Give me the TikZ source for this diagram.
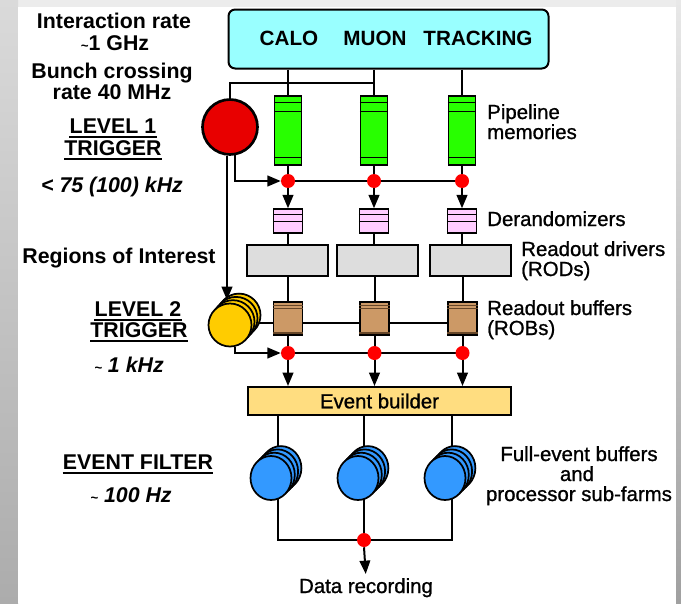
\documentclass[tikz,border=0pt]{standalone}
\usepackage{fontspec}
\setmainfont{Liberation Sans}
\newfontfamily\medfont[FakeBold=1]{Liberation Sans}
\usetikzlibrary{arrows.meta,shapes.geometric,calc}
\pgfdeclarelayer{bg}
\pgfdeclarelayer{wires}
\pgfsetlayers{bg,wires,main}
\definecolor{cyanbox}{RGB}{153,255,255}
\definecolor{pipegreen}{RGB}{40,255,0}
\definecolor{derpink}{RGB}{255,204,255}
\definecolor{rodgray}{RGB}{221,221,221}
\definecolor{robbrown}{RGB}{204,153,102}
\definecolor{robdark}{RGB}{102,70,40}
\definecolor{ltwoyellow}{RGB}{255,204,0}
\definecolor{efblue}{RGB}{51,153,255}
\definecolor{ebyellow}{RGB}{255,221,128}
\definecolor{dotred}{RGB}{255,0,0}
\definecolor{lonered}{RGB}{232,0,0}
\definecolor{bgtop}{RGB}{236,236,236}
\definecolor{lefttop}{RGB}{218,218,218}
\definecolor{leftbot}{RGB}{172,172,172}
\definecolor{righttop}{RGB}{232,232,232}
\definecolor{rightbot}{RGB}{160,160,160}
\newcommand\fhead{\fontsize{16}{19}\selectfont\bfseries}
\newcommand\flab{\medfont\fontsize{15.3}{18}\selectfont}
\newcommand\smtilde{{\fontsize{10}{10}\selectfont\textasciitilde}}
\begin{document}
\begin{tikzpicture}[x=0.75pt,y=-0.75pt,
  wire/.style={line width=1.5pt,black},
  arr/.style={wire,-{Triangle[length=10pt,width=8pt]}},
  box/.style={draw=black,line width=1.1pt,inner sep=0,rectangle},
  pipe/.style={box,fill=pipegreen,minimum width=20.25pt,minimum height=51.75pt},
  derand/.style={box,fill=derpink,minimum width=21.75pt,minimum height=18pt},
  rodbox/.style={box,fill=rodgray,minimum width=60.75pt,minimum height=23.25pt},
  robbox/.style={box,fill=robbrown,minimum width=21.75pt,minimum height=24.75pt},
  reddot/.style={circle,fill=dotred,inner sep=0,minimum size=10.5pt},
  stripe/.style={line width=1pt},
  ydisc/.style={circle,draw=black,line width=1.3pt,inner sep=0,minimum size=32.25pt,fill=ltwoyellow},
  bdisc/.style={ellipse,draw=black,line width=1.3pt,inner sep=0,minimum width=30.75pt,minimum height=33pt,fill=efblue},
  hd/.style={inner sep=0,anchor=base,font=\fhead},
  lb/.style={inner sep=0,anchor=base west,font=\flab},
  lbc/.style={inner sep=0,anchor=base,font=\flab},
  ul/.style={line width=1.1pt}
]
\useasboundingbox (0,0) rectangle (681,603);
\begin{pgfonlayer}{bg}
  \fill[bgtop] (0,0) rectangle (681,603);
  \shade[top color=lefttop,bottom color=leftbot] (0,0) rectangle (18,603);
  \shade[top color=righttop,bottom color=rightbot] (676,0) rectangle (681,603);
  \fill[white] (18,7) rectangle (676,603);
\end{pgfonlayer}

% detector box
\node[rectangle,rounded corners=5pt,draw,line width=1.5pt,fill=cyanbox,
      minimum width=240pt,minimum height=44.25pt,inner sep=0] (det) at (388.5,39) {};
\node[hd,font=\fontsize{15.5}{18}\selectfont\bfseries] (calo) at (289,45) {CALO};
\node[hd,font=\fontsize{15.5}{18}\selectfont\bfseries] (muon) at (375,45) {MUON};
\node[hd,font=\fontsize{15.5}{18}\selectfont\bfseries] (trk) at (478,45) {TRACKING};

% pipelines
\node[pipe] (p1) at (288,130.5) {};
\node[pipe] (p2) at (374,130.5) {};
\node[pipe] (p3) at (462,130.5) {};
\foreach \i in {1,2,3}{
  \draw[stripe] ($(p\i.north west)+(0,7)$) -- ($(p\i.north east)+(0,7)$);
  \draw[stripe] ($(p\i.north west)+(0,16)$) -- ($(p\i.north east)+(0,16)$);
  \draw[stripe] ($(p\i.south west)+(0,-8)$) -- ($(p\i.south east)+(0,-8)$);
}
% red dots row 1
\node[reddot] (d1) at (288,181) {};
\node[reddot] (d2) at (374,181) {};
\node[reddot] (d3) at (462,181) {};
% derandomizers
\node[derand] (z1) at (288,221) {};
\node[derand] (z2) at (374,221) {};
\node[derand] (z3) at (462,221) {};
\foreach \i in {1,2,3}{
  \draw[stripe] ($(z\i.north west)+(0,6)$) -- ($(z\i.north east)+(0,6)$);
  \draw[stripe] ($(z\i.north west)+(0,13)$) -- ($(z\i.north east)+(0,13)$);
}
% RODs
\node[rodbox] (rod1) at (287.5,260.5) {};
\node[rodbox] (rod2) at (377.5,260.5) {};
\node[rodbox] (rod3) at (470.5,260.5) {};
% ROBs
\node[robbox] (r1) at (288,318.5) {};
\node[robbox] (r2) at (374.5,318.5) {};
\node[robbox] (r3) at (462.5,318.5) {};
\foreach \i in {1,2,3}{
  \draw[line width=0.8pt,robdark] ($(r\i.north west)+(0,4)$) -- ($(r\i.north east)+(0,4)$);
  \draw[line width=0.8pt,robdark] ($(r\i.north west)+(0,7.5)$) -- ($(r\i.north east)+(0,7.5)$);
  \draw[line width=1.3pt,robdark] ($(r\i.south west)+(0,-3)$) -- ($(r\i.south east)+(0,-3)$);
}
% red dots row 2
\node[reddot] (e1) at (288,353) {};
\node[reddot] (e2) at (374.5,353) {};
\node[reddot] (e3) at (462.5,353) {};
% event builder
\node[box,line width=1.5pt,fill=ebyellow,minimum width=197.25pt,minimum height=21pt,font=\flab] (eb) at (379.5,401) {Event builder};

% level 1
\node[circle,draw,line width=2pt,fill=lonered,minimum size=41.25pt,inner sep=0] (l1) at (230,127) {};
% level 2 stack
\foreach \k in {3,2,1}{ \node[ydisc] at (230+3*\k,325-3.3*\k) {}; }
\node[ydisc] (l2) at (230,325) {};
\coordinate (l2in) at (227,300);
\coordinate (l2r) at (245,323);

% event filter stacks
\foreach \k in {3,2,1}{
  \node[bdisc] at (271+3.3*\k,478-3.3*\k) {};
  \node[bdisc] at (358+3.3*\k,478-3.3*\k) {};
  \node[bdisc] at (445+3.3*\k,478-3.3*\k) {};
}
\node[bdisc] (f1) at (271,478) {};
\node[bdisc] (f2) at (358,478) {};
\node[bdisc] (f3) at (445,478) {};
\coordinate (bl) at (278,540);
\coordinate (br) at (452,540);
\node[reddot] (rec) at (364,540) {};
\node[lbc] (datarec) at (366,593) {Data recording};

\begin{pgfonlayer}{wires}
  \foreach \i in {1,2,3}{
    \draw[wire] (p\i.north |- det.south) -- (p\i.north);
    \draw[wire] (p\i.south) -- (d\i.center);
    \draw[arr] (d\i.south) -- (z\i.north);
    \draw[wire] (z\i.south) -- (z\i.south |- rod\i.north);
    \draw[wire] (r\i.north |- rod\i.south) -- (r\i.north);
    \draw[wire] (r\i.south) -- (e\i.center);
    \draw[arr] (e\i.south) -- (e\i.south |- eb.north);
  }
  \draw[wire] (l1.north) |- ($(p2.north)+(0,-12)$);
  \draw[wire] (d1.center) -- (d3.center);
  \draw[arr] (l1.280) |- (d1.west);
  \draw[wire] (l2r) -- (l2r -| r3.center);
  \draw[arr] (l2.284) |- (e1.west);
  \draw[wire] (e1.center) -- (e3.center);
  \draw[wire] (eb.south -| bl) -- (bl) -- (br) -- (eb.south -| br);
  \draw[wire] (eb.south -| rec) -- (rec.center);
  \draw[arr,shorten >=3pt] (rec.south) -- (datarec.north);
\end{pgfonlayer}
\draw[arr] (l1.264) -- (l1.264 |- l2in);

% left texts
\node[hd] (t1) at (114,28) {Interaction rate};
\node[hd] (t2) at (115,50) {\smtilde1 GHz};
\node[hd] (t3) at (112,78) {Bunch crossing};
\node[hd] (t4) at (112,99) {rate 40 MHz};
\node[hd] (lva) at (113,133) {LEVEL 1};
\node[hd] (lvb) at (113,155) {TRIGGER};
\node[hd,font=\fhead\itshape] (rt1) at (112,192) {< 75 (100) kHz};
\node[hd] (roi) at (119,263) {Regions of Interest};
\node[hd] (lvc) at (138,316) {LEVEL 2};
\node[hd] (lvd) at (139,337) {TRIGGER};
\node[hd,font=\fhead\itshape] (rt2) at (129,372) {\smtilde{} 1 kHz};
\node[hd] (evf) at (138,469) {EVENT FILTER};
\node[hd,font=\fhead\itshape] (rt3) at (131,502) {\smtilde{} 100 Hz};
\foreach \n in {lva,lvb,lvc,lvd,evf}{
  \draw[ul] ($(\n.base west)+(0,4)$) -- ($(\n.base east)+(0,4)$);
}

% right texts
\node[lb] (pl1) at (487,119) {Pipeline};
\node[lb] (pl2) at (487,139) {memories};
\node[lb] (drz) at (487,226) {Derandomizers};
\node[lb] (rd1) at (521,256) {Readout drivers};
\node[lb] (rd2) at (521,276) {(RODs)};
\node[lb] (rb1) at (487,315) {Readout buffers};
\node[lb] (rb2) at (487,335) {(ROBs)};
\node[lbc] (fe1) at (579,461) {Full-event buffers};
\node[lbc] (fe2) at (577,481) {and};
\node[lbc] (fe3) at (579,501) {processor sub-farms};
\end{tikzpicture}
\end{document}
